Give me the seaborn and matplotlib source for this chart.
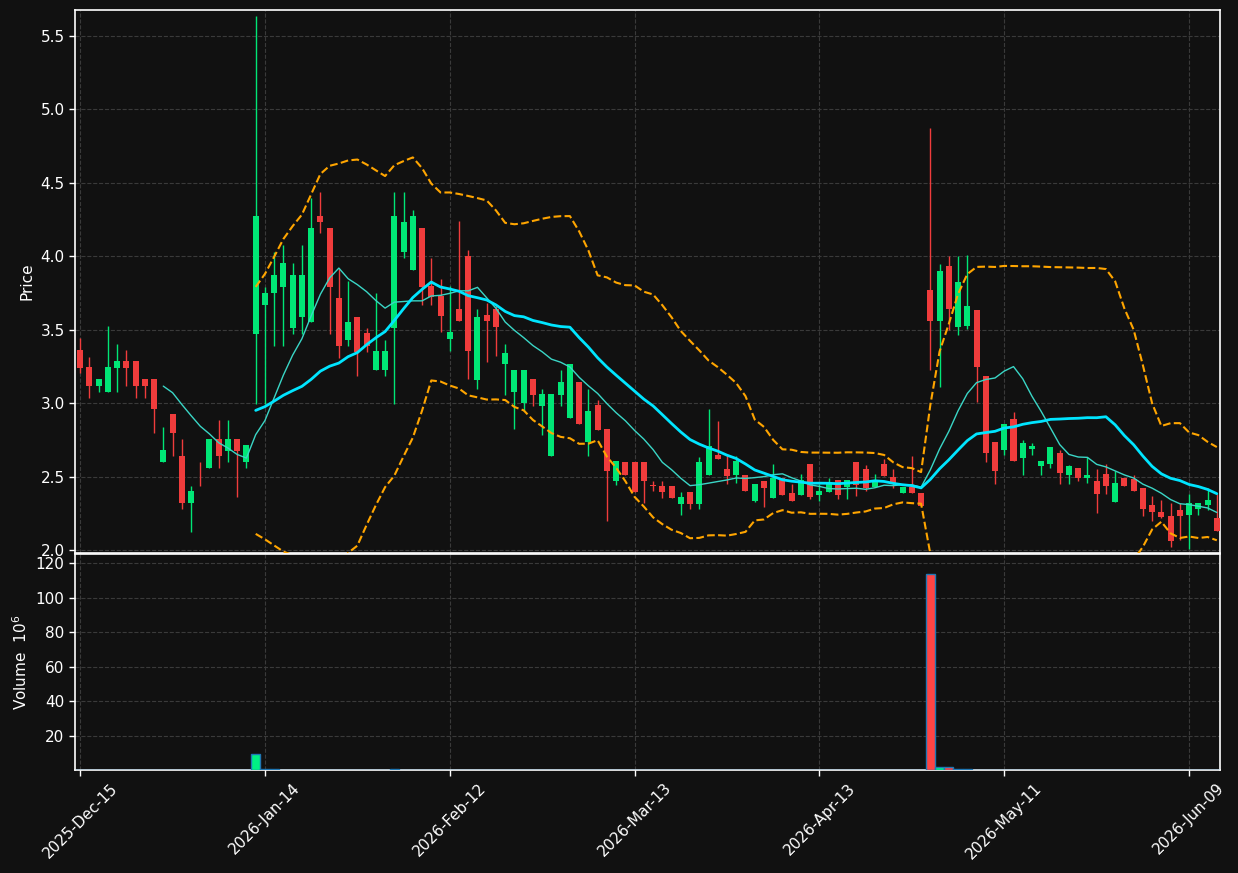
import numpy as np
import pandas as pd
import matplotlib
matplotlib.use("Agg")
import matplotlib.pyplot as plt
import seaborn as sns

# ---------------- data ----------------
opens = [3.36, 3.243, 3.116, 3.075, 3.239, 3.284, 3.284, 3.161, 3.161, 2.598,
         2.923, 2.643, 2.318, 2.52, 2.557, 2.757, 2.677, 2.757, 2.598, 3.469,
         3.671, 3.75, 3.791, 3.510, 3.589, 3.550, 4.276, 4.190, 3.714, 3.428,
         3.589, 3.474, 3.228, 3.228, 3.51, 4.029, 3.909, 4.190, 3.80, 3.726,
         3.436, 3.641, 4.0, 3.156, 3.60, 3.639, 3.263, 3.076, 3.0, 3.161,
         2.983, 2.637, 3.058, 2.901, 3.145, 2.735, 2.985, 2.821, 2.473, 2.60,
         2.60, 2.60, 2.438, 2.437, 2.437, 2.317, 2.398, 2.317, 2.511, 2.647,
         2.554, 2.511, 2.511, 2.335, 2.471, 2.357, 2.493, 2.387, 2.378, 2.584,
         2.376, 2.398, 2.48, 2.427, 2.602, 2.555, 2.427, 2.589, 2.495, 2.386,
         2.432, 2.391, 3.768, 3.559, 3.932, 3.518, 3.525, 3.632, 3.182, 2.739,
         2.684, 2.889, 2.625, 2.686, 2.574, 2.583, 2.664, 2.508, 2.558, 2.494,
         2.472, 2.517, 2.324, 2.49, 2.481, 2.426, 2.308, 2.261, 2.234, 2.274,
         2.236, 2.279, 2.304, 2.22]
highs = [3.44, 3.314, 3.161, 3.523, 3.40, 3.359, 3.284, 3.161, 3.161, 2.841,
         2.923, 2.757, 2.439, 2.598, 2.757, 2.882, 2.882, 2.757, 2.718, 5.637,
         3.793, 4.026, 4.075, 3.954, 4.075, 4.394, 4.435, 4.190, 3.911, 3.834,
         3.589, 3.51, 3.752, 3.433, 4.435, 4.435, 4.315, 4.190, 3.99, 3.844,
         3.794, 4.238, 4.044, 3.639, 3.68, 3.66, 3.40, 3.224, 3.224, 3.161,
         3.099, 3.06, 3.224, 3.265, 3.145, 3.099, 3.02, 2.821, 2.603, 2.60,
         2.60, 2.60, 2.471, 2.47, 2.437, 2.398, 2.398, 2.636, 2.957, 2.878,
         2.656, 2.64, 2.511, 2.452, 2.471, 2.584, 2.493, 2.448, 2.516, 2.584,
         2.448, 2.493, 2.48, 2.48, 2.602, 2.58, 2.52, 2.62, 2.552, 2.432,
         2.641, 2.391, 4.870, 3.95, 4.0, 4.0, 4.011, 3.636, 3.182, 2.739,
         2.855, 2.939, 2.75, 2.73, 2.608, 2.703, 2.68, 2.58, 2.558, 2.635,
         2.551, 2.585, 2.54, 2.49, 2.51, 2.426, 2.365, 2.342, 2.32, 2.32,
         2.381, 2.322, 2.426, 2.381]
lows = [3.205, 3.036, 3.075, 3.075, 3.075, 3.116, 3.036, 3.036, 2.798, 2.598,
        2.641, 2.280, 2.125, 2.436, 2.557, 2.559, 2.598, 2.359, 2.557, 2.993,
        2.993, 3.392, 3.392, 3.469, 3.469, 3.550, 4.159, 3.469, 3.310, 3.387,
        3.188, 3.349, 3.228, 3.188, 2.993, 3.99, 3.909, 3.671, 3.671, 3.482,
        3.356, 3.561, 3.161, 3.099, 3.28, 3.32, 3.054, 2.821, 2.944, 2.983,
        2.78, 2.637, 2.983, 2.901, 2.86, 2.637, 2.819, 2.20, 2.44, 2.511,
        2.398, 2.319, 2.40, 2.357, 2.357, 2.24, 2.278, 2.278, 2.511, 2.62,
        2.448, 2.455, 2.403, 2.324, 2.296, 2.357, 2.376, 2.335, 2.378, 2.346,
        2.335, 2.398, 2.348, 2.348, 2.37, 2.405, 2.427, 2.507, 2.423, 2.386,
        2.386, 2.30, 3.223, 3.109, 3.495, 3.461, 3.507, 3.007, 2.598, 2.45,
        2.65, 2.605, 2.511, 2.645, 2.51, 2.558, 2.449, 2.449, 2.47, 2.458,
        2.252, 2.381, 2.324, 2.433, 2.399, 2.229, 2.20, 2.218, 2.023, 2.068,
        2.007, 2.238, 2.274, 2.127]
closes = [3.24, 3.116, 3.161, 3.243, 3.284, 3.239, 3.116, 3.116, 2.959, 2.684,
          2.795, 2.318, 2.405, 2.515, 2.757, 2.639, 2.757, 2.677, 2.718, 4.276,
          3.752, 3.870, 3.954, 3.870, 3.870, 4.190, 4.231, 3.791, 3.387, 3.553,
          3.349, 3.390, 3.353, 3.353, 4.276, 4.233, 4.276, 3.791, 3.72, 3.596,
          3.484, 3.561, 3.354, 3.589, 3.561, 3.52, 3.343, 3.224, 3.224, 3.058,
          3.06, 3.06, 3.145, 3.265, 2.86, 2.944, 2.819, 2.536, 2.603, 2.511,
          2.398, 2.471, 2.434, 2.398, 2.357, 2.362, 2.317, 2.60, 2.708, 2.622,
          2.505, 2.606, 2.403, 2.452, 2.425, 2.493, 2.376, 2.335, 2.477, 2.364,
          2.403, 2.459, 2.377, 2.48, 2.445, 2.423, 2.48, 2.507, 2.45, 2.432,
          2.386, 2.30, 3.559, 3.898, 3.643, 3.823, 3.659, 3.245, 2.664, 2.536,
          2.855, 2.605, 2.732, 2.706, 2.608, 2.703, 2.528, 2.574, 2.488, 2.512,
          2.379, 2.433, 2.458, 2.433, 2.399, 2.283, 2.256, 2.227, 2.059, 2.229,
          2.320, 2.322, 2.342, 2.127]
volumes = [0.12, 0.10, 0.08, 0.11, 0.09, 0.07, 0.10, 0.08, 0.12, 0.15,
           0.10, 0.18, 0.14, 0.06, 0.10, 0.09, 0.08, 0.12, 0.10, 9.2,
           0.55, 0.30, 0.25, 0.22, 0.20, 0.28, 0.18, 0.20, 0.22, 0.15,
           0.14, 0.10, 0.12, 0.10, 0.30, 0.20, 0.18, 0.16, 0.12, 0.10,
           0.09, 0.12, 0.15, 0.12, 0.10, 0.08, 0.09, 0.10, 0.08, 0.07,
           0.08, 0.10, 0.07, 0.09, 0.08, 0.07, 0.06, 0.10, 0.07, 0.05,
           0.06, 0.05, 0.04, 0.05, 0.04, 0.05, 0.04, 0.08, 0.10, 0.06,
           0.05, 0.05, 0.04, 0.05, 0.04, 0.05, 0.04, 0.04, 0.05, 0.06,
           0.04, 0.05, 0.04, 0.04, 0.05, 0.04, 0.04, 0.05, 0.04, 0.04,
           0.06, 0.05, 113.7, 1.6, 1.7, 0.5, 0.35, 0.25, 0.20, 0.15,
           0.12, 0.10, 0.08, 0.07, 0.06, 0.07, 0.06, 0.05, 0.05, 0.06,
           0.07, 0.05, 0.06, 0.04, 0.05, 0.06, 0.05, 0.05, 0.07, 0.05,
           0.06, 0.04, 0.05, 0.06]
holidays = ["2025-12-25", "2026-01-01", "2026-01-19", "2026-02-16",
            "2026-04-03", "2026-05-25"]
start_date = "2025-12-15"
tick_step = 20

# ---------------- derived series ----------------
n = len(closes)
idx = np.arange(n)
cbd = pd.offsets.CustomBusinessDay(holidays=holidays)
dates = pd.date_range(start_date, periods=n, freq=cbd)
df = pd.DataFrame({"i": idx, "open": opens, "high": highs, "low": lows,
                   "close": closes, "volume": volumes})
df["ma10"] = df["close"].rolling(10).mean()
df["ma20"] = df["close"].rolling(20).mean()
std20 = df["close"].rolling(20).std(ddof=0)
df["bb_up"] = df["ma20"] + 2 * std20
df["bb_lo"] = df["ma20"] - 2 * std20

# ---------------- style ----------------
bg = "#111111"
up_c = "#00e676"
dn_c = "#f03c3c"
vol_up = "#00f084"
vol_dn = "#ff4444"
sns.set_theme(style="dark", rc={
    "figure.facecolor": bg, "axes.facecolor": bg, "axes.edgecolor": "white",
    "axes.labelcolor": "white", "xtick.color": "white", "ytick.color": "white",
    "text.color": "white", "axes.linewidth": 1.2,
    "xtick.bottom": True, "ytick.left": True,
})
plt.rcParams["font.family"] = ["DejaVu Sans"]

fig = plt.figure(figsize=(12.38, 8.73), dpi=100)
ax1 = fig.add_axes([0.0606, 0.3665, 0.9249, 0.6220])
ax2 = fig.add_axes([0.0606, 0.1180, 0.9249, 0.2470], sharex=ax1)

is_up = df["close"] >= df["open"]
colors = np.where(is_up, up_c, dn_c)
vcolors = np.where(is_up, vol_up, vol_dn)

# candles
ax1.vlines(df["i"], df["low"], df["high"], colors=colors, lw=1.0, zorder=2)
body_lo = np.minimum(df["open"], df["close"])
body_h = np.maximum(np.abs(df["close"] - df["open"]), 0.006)
ax1.bar(df["i"], body_h, bottom=body_lo, width=0.65, color=colors,
        linewidth=0, zorder=3)

# moving averages & bands
sns.lineplot(data=df.dropna(subset=["ma10"]), x="i", y="ma10", ax=ax1,
             color="#3ad6c6", lw=1.0, zorder=4)
sns.lineplot(data=df.dropna(subset=["ma20"]), x="i", y="ma20", ax=ax1,
             color="#00e5ff", lw=2.0, zorder=4)
sns.lineplot(data=df.dropna(subset=["bb_up"]), x="i", y="bb_up", ax=ax1,
             color="#ffa500", lw=1.5, linestyle="--", zorder=4)
sns.lineplot(data=df.dropna(subset=["bb_lo"]), x="i", y="bb_lo", ax=ax1,
             color="#ffa500", lw=1.5, linestyle="--", zorder=4)

# volume
ax2.bar(df["i"], df["volume"], width=1.0, color=vcolors,
        edgecolor="#1f77b4", linewidth=1.0, zorder=3)

# axes settings
ax1.set_xlim(-0.55, 123.35)
ax1.set_ylim(1.98, 5.675)
ax1.set_yticks([2.0, 2.5, 3.0, 3.5, 4.0, 4.5, 5.0, 5.5])
ax1.set_yticklabels(["2.0", "2.5", "3.0", "3.5", "4.0", "4.5", "5.0", "5.5"])
ax2.set_ylim(0.3 * min(volumes), 1.1 * max(volumes))
ax2.set_yticks([20, 40, 60, 80, 100, 120])

ticks = list(range(0, n, tick_step))
ax2.set_xticks(ticks)
ax2.set_xticklabels([dates[t].strftime("%Y-%b-%d") for t in ticks],
                    rotation=45, ha="center", fontsize=11)
ax1.tick_params(labelbottom=False)

for ax in (ax1, ax2):
    ax.grid(True, linestyle="--", color="#3a3a3a", lw=0.8)
    ax.set_axisbelow(True)
    ax.tick_params(axis="both", labelsize=11, length=4, width=1, colors="white")
    for s in ax.spines.values():
        s.set_color("white")
    ax.set_xlabel("")

ax1.set_ylabel("Price", fontsize=11)
ax2.set_ylabel("Volume  $10^{6}$", fontsize=11)

fig.savefig("out.png", dpi=100, facecolor=bg)
